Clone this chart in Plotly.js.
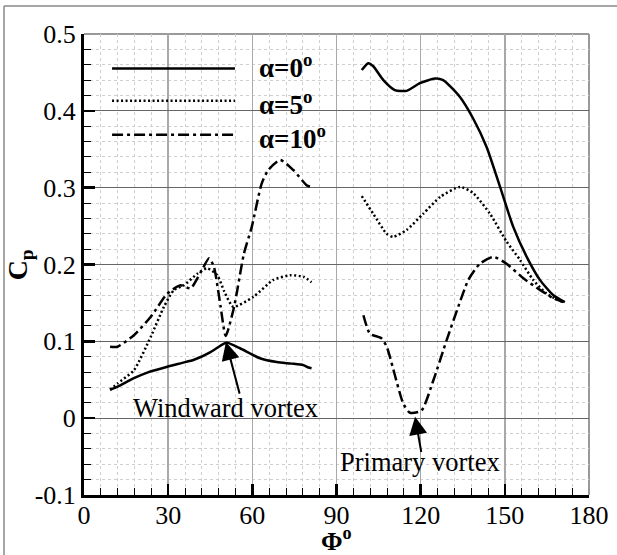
<!DOCTYPE html>
<html>
<head>
<meta charset="utf-8">
<script src="https://cdn.plot.ly/plotly-3.0.1.min.js"></script>
<style>
html,body{margin:0;padding:0;background:#fff;}
#chart{width:617px;height:555px;}
</style>
</head>
<body>
<div id="chart"></div>
<script>
// ---- data ----
const seriesNames = ['α=0<sup>o</sup>', 'α=5<sup>o</sup>', 'α=10<sup>o</sup>'];

// alpha = 0 deg (solid)
const phi0_left  = [9.3, 12, 17.8, 23, 29.7, 35, 39.2, 45.1, 49.9, 51.2, 55.6, 62.7, 68.7, 74, 78.2, 80, 81.1];
const cp0_left   = [0.037, 0.041, 0.052, 0.060, 0.067, 0.072, 0.076, 0.086, 0.097, 0.098, 0.091, 0.078, 0.073, 0.071, 0.069, 0.066, 0.065];
const phi0_right = [99, 101.3, 103.1, 106.7, 110.8, 115, 119.7, 125.1, 128, 134, 138.7, 143.5, 148.3, 153, 157.8, 162.5, 167.3, 171.4];
const cp0_right  = [0.453, 0.462, 0.458, 0.44, 0.427, 0.426, 0.436, 0.442, 0.44, 0.418, 0.39, 0.353, 0.301, 0.249, 0.21, 0.18, 0.16, 0.151];

// alpha = 5 deg (dotted)
const phi5_left  = [9.3, 11.9, 17.8, 23.8, 28.5, 32.1, 35.6, 40.4, 43.9, 47.5, 50, 53.2, 60.4, 67.5, 73.4, 78.2, 81.1];
const cp5_left   = [0.037, 0.045, 0.0625, 0.106, 0.145, 0.167, 0.173, 0.188, 0.195, 0.186, 0.165, 0.145, 0.158, 0.18, 0.186, 0.184, 0.177];
const phi5_right = [99, 103.1, 107.9, 110.2, 115, 120.9, 127, 134, 138.7, 144.7, 150.6, 155.4, 160.1, 164.9, 170.8];
const cp5_right  = [0.289, 0.266, 0.240, 0.236, 0.245, 0.266, 0.288, 0.301, 0.293, 0.266, 0.230, 0.206, 0.18, 0.162, 0.151];

// alpha = 10 deg (dash-dot)
const phi10_left  = [9.3, 11.9, 17.8, 23.8, 29.7, 34.4, 38, 41.6, 44.6, 46.3, 48.7, 50.5, 53.5, 57, 59.8, 63.3, 65.7, 69.9, 74.6, 79.4, 81.1];
const cp10_left   = [0.093, 0.093, 0.108, 0.132, 0.162, 0.173, 0.169, 0.19, 0.208, 0.197, 0.145, 0.107, 0.145, 0.214, 0.249, 0.305, 0.323, 0.336, 0.323, 0.303, 0.301];
const phi10_right = [99.6, 101.9, 106, 107.9, 113.8, 116.2, 120.3, 124.5, 129.3, 133.4, 137, 141.1, 145.9, 150.6, 156.6, 162.5, 167.3, 170.8];
const cp10_right  = [0.134, 0.110, 0.104, 0.093, 0.019, 0.007, 0.010, 0.049, 0.102, 0.145, 0.18, 0.201, 0.21, 0.201, 0.182, 0.167, 0.156, 0.151];

const xTicks = [0, 30, 60, 90, 120, 150, 180];
const yTicks = [-0.1, 0, 0.1, 0.2, 0.3, 0.4, 0.5];

const annoTexts = ['Windward vortex', 'Primary vortex'];
const annoHead  = [[50.6, 0.099], [118, 0.002]];
const annoTail  = [[55.6, 0.030], [120.3, -0.046]];
const annoLabel = [[50.4, 0.013], [119.7, -0.057]];

// ---- styling ----
const FONT = 'Liberation Serif';
const dashes = ['solid', '2px,2.5px', '11px,4px,3px,4px'];

function joinSeg(a, b) { return a.concat([null], b); }

const xs = [joinSeg(phi0_left, phi0_right), joinSeg(phi5_left, phi5_right), joinSeg(phi10_left, phi10_right)];
const ys = [joinSeg(cp0_left, cp0_right), joinSeg(cp5_left, cp5_right), joinSeg(cp10_left, cp10_right)];

const traces = xs.map((x, i) => ({
  x: x, y: ys[i], type: 'scatter', mode: 'lines', name: seriesNames[i],
  connectgaps: false, showlegend: false, hoverinfo: 'skip',
  line: {color: '#000', width: 2.5, dash: dashes[i], shape: 'spline', smoothing: 0.6}
}));

// legend drawn manually (long sample lines)
const legY = [0.455, 0.413, 0.369];
const legTextY = [0.458, 0.410, 0.366];
const shapes = [];
legY.forEach((yy, i) => {
  shapes.push({type: 'line', xref: 'x', yref: 'y', x0: 10, x1: 53.8, y0: yy, y1: yy,
    line: {color: '#000', width: 2.5, dash: dashes[i]}});
});
// top / right frame of the plot box (gray)
shapes.push({type: 'line', xref: 'paper', yref: 'paper', x0: 0, x1: 1, y0: 1, y1: 1, line: {color: '#999', width: 2}, layer: 'below'});
shapes.push({type: 'line', xref: 'paper', yref: 'paper', x0: 1, x1: 1, y0: 0, y1: 1, line: {color: '#999', width: 2}, layer: 'below'});
// outer picture frame (left / top)
shapes.push({type: 'line', xref: 'paper', yref: 'paper', x0: -0.1584, x1: -0.1584, y0: -0.2, y1: 1.0607, line: {color: '#888', width: 1.5}});
shapes.push({type: 'line', xref: 'paper', yref: 'paper', x0: -0.1584, x1: 1.2, y0: 1.0607, y1: 1.0607, line: {color: '#888', width: 1.5}});

const annotations = [];
seriesNames.forEach((t, i) => {
  annotations.push({x: 61.7, y: legTextY[i], xref: 'x', yref: 'y', text: '<b>' + t + '</b>',
    showarrow: false, xanchor: 'left', yanchor: 'middle', font: {family: FONT, size: 27, color: '#000'}});
});
annoTexts.forEach((t, i) => {
  annotations.push({x: annoHead[i][0], y: annoHead[i][1], ax: annoTail[i][0], ay: annoTail[i][1],
    xref: 'x', yref: 'y', axref: 'x', ayref: 'y', text: '', showarrow: true,
    arrowhead: 2, arrowsize: 1.8, arrowwidth: 2, arrowcolor: '#000', standoff: 0});
  annotations.push({x: annoLabel[i][0], y: annoLabel[i][1], xref: 'x', yref: 'y', text: t,
    showarrow: false, xanchor: 'center', yanchor: 'middle', font: {family: FONT, size: 26.5, color: '#000'}});
});
// axis titles
annotations.push({x: -0.127, y: 0.5, xref: 'paper', yref: 'paper', text: '<b>C<sub>p</sub></b>',
  textangle: -90, showarrow: false, xanchor: 'center', yanchor: 'middle', font: {family: FONT, size: 28, color: '#000'}});
annotations.push({x: 0.5, y: -0.0976, xref: 'paper', yref: 'paper', text: '<b>Φ<sup>o</sup></b>',
  showarrow: false, xanchor: 'center', yanchor: 'middle', font: {family: FONT, size: 26, color: '#000'}});

const layout = {
  width: 617, height: 555,
  margin: {l: 84, r: 28, t: 34, b: 60, pad: 0},
  paper_bgcolor: '#fff', plot_bgcolor: '#fff',
  showlegend: false,
  font: {family: FONT, size: 25, color: '#000'},
  xaxis: {
    range: [0, 180], tickvals: xTicks, ticktext: xTicks.map(String),
    showline: true, linecolor: '#000', linewidth: 3, mirror: false,
    ticks: 'inside', ticklen: 11, tickwidth: 2.5, tickcolor: '#000',
    showgrid: true, gridcolor: '#a8a8a8', gridwidth: 1.5, zeroline: false,
    tickfont: {family: FONT, size: 26, color: '#000'}, ticklabelstandoff: -5,
    minor: {dtick: 6, tick0: 0, ticks: 'inside', ticklen: 7, tickwidth: 1, tickcolor: '#000',
      showgrid: true, gridcolor: '#cfcfcf', griddash: 'dot', gridwidth: 1}
  },
  yaxis: {
    range: [-0.1, 0.5], tickvals: yTicks, ticktext: yTicks.map(String),
    showline: true, linecolor: '#000', linewidth: 3, mirror: false,
    ticks: 'inside', ticklen: 11, tickwidth: 2.5, tickcolor: '#000',
    showgrid: true, gridcolor: '#666', gridwidth: 1, zeroline: false,
    tickfont: {family: FONT, size: 26, color: '#000'}, ticklabelstandoff: 0,
    minor: {dtick: 0.02, tick0: 0, ticks: 'inside', ticklen: 7, tickwidth: 1, tickcolor: '#000',
      showgrid: true, gridcolor: '#cfcfcf', griddash: 'dot', gridwidth: 1}
  },
  shapes: shapes,
  annotations: annotations
};

Plotly.newPlot('chart', traces, layout, {staticPlot: true, displayModeBar: false});
</script>
</body>
</html>
